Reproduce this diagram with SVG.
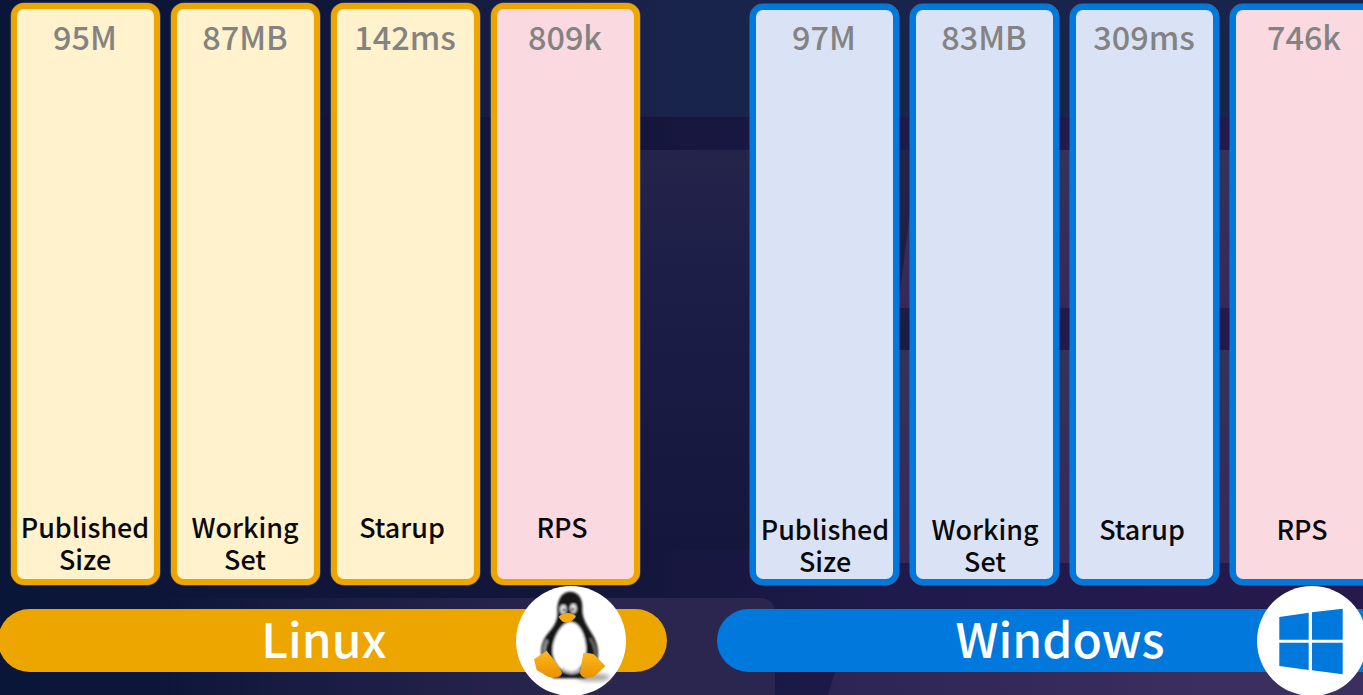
<svg xmlns="http://www.w3.org/2000/svg" width="1363" height="695" viewBox="0 0 1363 695">
<style>
text{font-family:"Noto Sans CJK SC","Noto Sans",sans-serif;text-anchor:middle}
rect.c{stroke-width:6}
rect.o{fill:none;stroke:#9a9a9a;stroke-width:7;stroke-opacity:.55}
.l{stroke:#eda500}.w{stroke:#0078dc}
.ly{fill:#fff2cc}.b{fill:#dae3f5}.p{fill:#fadae0}
.v{font-size:32.4px;fill:#838383;font-weight:500}
.t{font-size:26.9px;fill:#0a0a0a;font-weight:500}
.h{font-size:48px;fill:#fff;font-weight:500}
</style>
<defs>
<linearGradient id="bg" gradientUnits="userSpaceOnUse" x1="0" y1="0" x2="1363" y2="0">
<stop offset="0" stop-color="#0a1638"/><stop offset="0.47" stop-color="#15163c"/><stop offset="0.66" stop-color="#1f1a4c"/><stop offset="1" stop-color="#27194c"/>
</linearGradient>
<linearGradient id="top" gradientUnits="userSpaceOnUse" x1="300" y1="0" x2="700" y2="0">
<stop offset="0" stop-color="#182448" stop-opacity="0"/><stop offset="1" stop-color="#19244c"/>
</linearGradient>
<linearGradient id="mid" x1="0" y1="0" x2="0" y2="1">
<stop offset="0" stop-color="#24234a"/><stop offset="0.4" stop-color="#1b1d47"/><stop offset="1" stop-color="#15163c"/>
</linearGradient>
<linearGradient id="rp1" x1="0" y1="0" x2="0" y2="1"><stop offset="0" stop-color="#34325a"/><stop offset="1" stop-color="#37285a"/></linearGradient>
<linearGradient id="bot" gradientUnits="userSpaceOnUse" x1="150" y1="0" x2="620" y2="0">
<stop offset="0" stop-color="#2a2850" stop-opacity="0"/><stop offset="1" stop-color="#2b2650"/>
</linearGradient>
<linearGradient id="rb" gradientUnits="userSpaceOnUse" x1="828" y1="0" x2="1200" y2="0">
<stop offset="0" stop-color="#2c2554"/><stop offset="1" stop-color="#3a2f5e"/>
</linearGradient>
<linearGradient id="foot" x1="0" y1="0" x2="0" y2="1"><stop offset="0" stop-color="#fdb81a"/><stop offset="1" stop-color="#e89200"/></linearGradient>
<filter id="soft" x="-20%" y="-20%" width="140%" height="140%"><feGaussianBlur stdDeviation="2.4"/></filter>
<filter id="softer" x="-30%" y="-30%" width="160%" height="160%"><feGaussianBlur stdDeviation="7"/></filter>
</defs>
<g id="background">
<rect width="1363" height="695" fill="url(#bg)"/>
<rect x="300" y="0" width="1063" height="117" fill="url(#top)"/>
<rect x="600" y="150" width="320" height="400" fill="url(#mid)"/>
<polygon points="918,150 1363,150 1363,308 899,308 899,300" fill="url(#rp1)"/>
<rect x="899" y="350" width="464" height="213" fill="url(#rp1)"/>
<rect x="150" y="598" width="625" height="120" rx="14" fill="url(#bot)"/>
<polygon points="845,640 1363,640 1363,695 828,695" fill="url(#rb)"/>
</g>
<g id="linux-size"><rect class="o" x="14" y="6" width="143" height="576" rx="10"/><rect class="c l ly" x="14" y="6" width="143" height="576" rx="10"/><text class="v" x="85" y="50">95M</text><text class="t" x="85" y="538">Published</text><text class="t" x="85" y="570">Size</text></g>
<g id="linux-ws"><rect class="o" x="174" y="6" width="143" height="576" rx="10"/><rect class="c l ly" x="174" y="6" width="143" height="576" rx="10"/><text class="v" x="245" y="50">87MB</text><text class="t" x="245" y="538">Working</text><text class="t" x="245" y="570">Set</text></g>
<g id="linux-startup"><rect class="o" x="334" y="6" width="143" height="576" rx="10"/><rect class="c l ly" x="334" y="6" width="143" height="576" rx="10"/><text class="v" x="405" y="50">142ms</text><text class="t" x="402" y="538">Starup</text></g>
<g id="linux-rps"><rect class="o" x="494" y="6" width="143" height="576" rx="10"/><rect class="c l p" x="494" y="6" width="143" height="576" rx="10"/><text class="v" x="565" y="50">809k</text><text class="t" x="562" y="538">RPS</text></g>
<g id="windows-size"><rect class="o" x="753" y="7" width="143" height="575" rx="10"/><rect class="c w b" x="753" y="7" width="143" height="575" rx="10"/><text class="v" x="824" y="50">97M</text><text class="t" x="825" y="540">Published</text><text class="t" x="825" y="572">Size</text></g>
<g id="windows-ws"><rect class="o" x="913" y="7" width="143" height="575" rx="10"/><rect class="c w b" x="913" y="7" width="143" height="575" rx="10"/><text class="v" x="984" y="50">83MB</text><text class="t" x="985" y="540">Working</text><text class="t" x="985" y="572">Set</text></g>
<g id="windows-startup"><rect class="o" x="1073" y="7" width="143" height="575" rx="10"/><rect class="c w b" x="1073" y="7" width="143" height="575" rx="10"/><text class="v" x="1144" y="50">309ms</text><text class="t" x="1142" y="540">Starup</text></g>
<g id="windows-rps"><rect class="o" x="1233" y="7" width="143" height="575" rx="10"/><rect class="c w p" x="1233" y="7" width="143" height="575" rx="10"/><text class="v" x="1304" y="50">746k</text><text class="t" x="1302" y="540">RPS</text></g>
<g id="linux-bar">
<rect x="-2" y="609" width="669" height="63" rx="31.5" fill="#eda500"/>
<text class="h" x="324" y="658">Linux</text>
<circle cx="571" cy="641" r="55" fill="#fff"/>
<g transform="translate(530 590) scale(.3333)">
<ellipse cx="190" cy="262" rx="50" ry="12" fill="#aaa" filter="url(#softer)"/>
<g filter="url(#soft)">
<path d="M82 60C82 25 98 5 120 5C145 5 160 25 157 60C157 85 170 105 185 130C205 160 210 195 198 225L165 265H70L42 215C25 185 35 150 58 125C76 105 85 85 82 60Z" fill="#161616"/>
<path d="M52 150C40 172 40 190 50 208" fill="none" stroke="#9a9a9a" stroke-width="8"/>
<path d="M180 145C196 170 200 190 194 208" fill="none" stroke="#777" stroke-width="6"/>
<path d="M118 96C145 92 165 130 168 170C170 210 152 245 118 246C92 246 74 222 68 190C64 150 92 100 118 96Z" fill="#fff"/>
<path d="M95 236C110 250 135 252 152 238" fill="none" stroke="#bdbdbd" stroke-width="9"/>
<ellipse cx="100" cy="58" rx="10" ry="14" fill="#e4e4e4"/><ellipse cx="130" cy="55" rx="10" ry="14" fill="#e4e4e4"/>
<circle cx="102" cy="60" r="4.5" fill="#111"/><circle cx="128" cy="58" r="4.5" fill="#111"/>
</g>
<path d="M86 80C100 66 126 66 138 78C132 92 115 99 104 97C96 95 90 88 86 80Z" fill="#f5a90c"/>
<path d="M12 208L50 182C68 205 90 230 96 250C92 264 72 266 54 260L20 240Z" fill="url(#foot)"/>
<path d="M160 190C175 188 190 190 197 198L226 228L195 258C175 268 155 266 150 250C153 230 157 210 160 190Z" fill="url(#foot)"/>
</g>
</g>
<g id="windows-bar">
<rect x="717" y="609" width="680" height="63" rx="31.5" fill="#0078dc"/>
<text class="h" x="1060" y="658">Windows</text>
<circle cx="1312" cy="641" r="55" fill="#fff"/>
<path d="M1279.3 617L1308.7 612.7V639.7H1279.3ZM1312 612.3L1342.7 608.7V639.7H1312ZM1279.3 642.7H1308.7V670L1279.3 666ZM1312 642.7H1342.7V674.3L1312 670.3Z" fill="#0078dc"/>
</g>
</svg>
